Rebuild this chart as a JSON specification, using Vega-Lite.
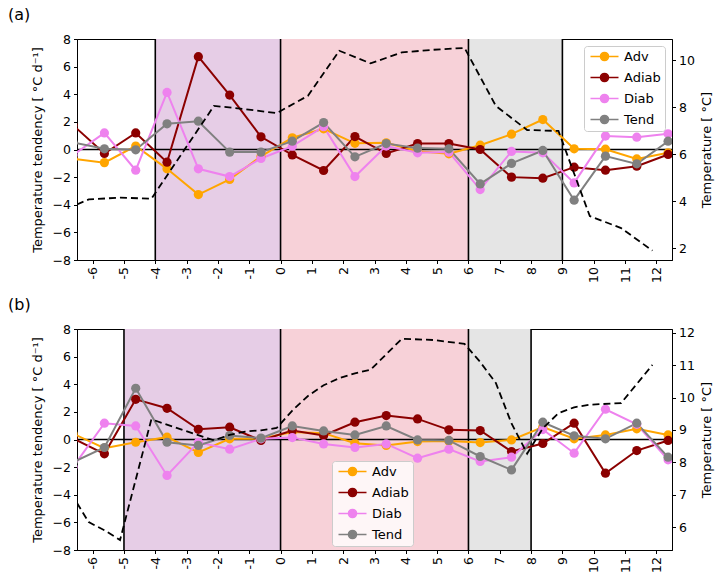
{
  "$schema": "https://vega.github.io/schema/vega-lite/v6.json",
  "background": "white",
  "padding": {"left": 7, "top": 6, "right": 5, "bottom": 5},
  "config": {
    "font": "DejaVu Sans",
    "view": {"stroke": "black", "strokeWidth": 1},
    "axis": {"grid": false, "domainColor": "black", "tickColor": "black", "labelColor": "black", "titleColor": "black", "labelFontSize": 12.5, "titleFontSize": 13, "titleFontWeight": "normal", "tickSize": 3.5, "labelPadding": 3, "titlePadding": 8, "labelFont": "DejaVu Sans", "titleFont": "DejaVu Sans", "labelFlush": false, "labelOverlap": false, "labelBound": false, "zindex": 1},
    "legend": {"fillColor": "rgba(255,255,255,0.8)", "strokeColor": "#cccccc", "cornerRadius": 3, "padding": 4, "labelFontSize": 13, "labelFont": "DejaVu Sans", "labelColor": "black", "rowPadding": 6, "symbolSize": 64, "symbolStrokeWidth": 1.6, "symbolOffset": 10, "labelOffset": 13},
    "title": {"fontSize": 16, "fontWeight": "normal", "anchor": "start", "font": "DejaVu Sans", "color": "black", "frame": "bounds"}
  },
  "datasets": {
    "phasesA": [{"phase": "pre", "start": -4, "end": 0}, {"phase": "peak", "start": 0, "end": 6}, {"phase": "post", "start": 6, "end": 9}],
    "phasesB": [{"phase": "pre", "start": -5, "end": 0}, {"phase": "peak", "start": 0, "end": 6}, {"phase": "post", "start": 6, "end": 8}],
    "boundsA": [{"t": -4}, {"t": 0}, {"t": 6}, {"t": 9}],
    "boundsB": [{"t": -5}, {"t": 0}, {"t": 6}, {"t": 8}],
    "seriesA": [
      {"t": -6.625, "Adv": -0.67, "Adiab": 1.76, "Diab": -0.4, "Tend": 0.51},
      {"t": -5.625, "Adv": -0.95, "Adiab": -0.29, "Diab": 1.2, "Tend": 0.05},
      {"t": -4.625, "Adv": 0.25, "Adiab": 1.2, "Diab": -1.5, "Tend": -0.02},
      {"t": -3.625, "Adv": -1.4, "Adiab": -0.92, "Diab": 4.13, "Tend": 1.86},
      {"t": -2.625, "Adv": -3.26, "Adiab": 6.72, "Diab": -1.4, "Tend": 2.05},
      {"t": -1.625, "Adv": -2.17, "Adiab": 3.94, "Diab": -1.96, "Tend": -0.19},
      {"t": -0.625, "Adv": -0.5, "Adiab": 0.92, "Diab": -0.65, "Tend": -0.19},
      {"t": 0.375, "Adv": 0.85, "Adiab": -0.39, "Diab": 0.24, "Tend": 0.6},
      {"t": 1.375, "Adv": 1.5, "Adiab": -1.52, "Diab": 1.65, "Tend": 1.95},
      {"t": 2.375, "Adv": 0.45, "Adiab": 0.94, "Diab": -1.96, "Tend": -0.53},
      {"t": 3.375, "Adv": 0.48, "Adiab": -0.29, "Diab": 0.25, "Tend": 0.43},
      {"t": 4.375, "Adv": -0.12, "Adiab": 0.43, "Diab": -0.24, "Tend": 0.1},
      {"t": 5.375, "Adv": -0.31, "Adiab": 0.43, "Diab": -0.19, "Tend": 0.05},
      {"t": 6.375, "Adv": 0.31, "Adiab": 0.0, "Diab": -2.9, "Tend": -2.49},
      {"t": 7.375, "Adv": 1.11, "Adiab": -2.0, "Diab": -0.14, "Tend": -1.01},
      {"t": 8.375, "Adv": 2.17, "Adiab": -2.08, "Diab": -0.24, "Tend": -0.07},
      {"t": 9.375, "Adv": 0.05, "Adiab": -1.28, "Diab": -2.42, "Tend": -3.67},
      {"t": 10.375, "Adv": 0.02, "Adiab": -1.5, "Diab": 0.97, "Tend": -0.48},
      {"t": 11.375, "Adv": -0.68, "Adiab": -1.21, "Diab": 0.89, "Tend": -1.04},
      {"t": 12.375, "Adv": -0.24, "Adiab": -0.36, "Diab": 1.14, "Tend": 0.6}
    ],
    "seriesB": [
      {"t": -6.625, "Adv": 0.42, "Adiab": 0.07, "Diab": -1.99, "Tend": -1.65},
      {"t": -5.625, "Adv": -0.63, "Adiab": -1.04, "Diab": 1.18, "Tend": -0.58},
      {"t": -4.625, "Adv": -0.2, "Adiab": 2.91, "Diab": 0.98, "Tend": 3.71},
      {"t": -3.625, "Adv": 0.17, "Adiab": 2.26, "Diab": -2.6, "Tend": -0.2},
      {"t": -2.625, "Adv": -0.94, "Adiab": 0.74, "Diab": -0.2, "Tend": -0.43},
      {"t": -1.625, "Adv": 0.05, "Adiab": 0.89, "Diab": -0.7, "Tend": 0.29},
      {"t": -0.625, "Adv": 0.05, "Adiab": -0.07, "Diab": 0.05, "Tend": 0.1},
      {"t": 0.375, "Adv": 0.55, "Adiab": 0.65, "Diab": 0.14, "Tend": 0.98},
      {"t": 1.375, "Adv": 0.46, "Adiab": 0.29, "Diab": -0.32, "Tend": 0.62},
      {"t": 2.375, "Adv": -0.27, "Adiab": 1.25, "Diab": -0.58, "Tend": 0.33},
      {"t": 3.375, "Adv": -0.43, "Adiab": 1.73, "Diab": -0.32, "Tend": 0.98},
      {"t": 4.375, "Adv": -0.15, "Adiab": 1.49, "Diab": -1.35, "Tend": -0.03},
      {"t": 5.375, "Adv": -0.1, "Adiab": 0.7, "Diab": -0.7, "Tend": -0.07},
      {"t": 6.375, "Adv": -0.22, "Adiab": 0.65, "Diab": -1.59, "Tend": -1.23},
      {"t": 7.375, "Adv": -0.03, "Adiab": -0.87, "Diab": -1.28, "Tend": -2.2},
      {"t": 8.375, "Adv": 0.9, "Adiab": -0.29, "Diab": 0.72, "Tend": 1.25},
      {"t": 9.375, "Adv": 0.05, "Adiab": 1.18, "Diab": -0.99, "Tend": 0.27},
      {"t": 10.375, "Adv": 0.33, "Adiab": -2.44, "Diab": 2.19, "Tend": 0.05},
      {"t": 11.375, "Adv": 0.77, "Adiab": -0.8, "Diab": 1.1, "Tend": 1.18},
      {"t": 12.375, "Adv": 0.33, "Adiab": -0.07, "Diab": -1.47, "Tend": -1.28}
    ],
    "dashA": [
      {"t": -6.5, "temp": 3.86}, {"t": -6.125, "temp": 4.07}, {"t": -5.125, "temp": 4.15}, {"t": -4.125, "temp": 4.1},
      {"t": -2.125, "temp": 8.06}, {"t": -1.125, "temp": 7.92}, {"t": -0.125, "temp": 7.75}, {"t": 0.875, "temp": 8.49},
      {"t": 1.875, "temp": 10.41}, {"t": 2.875, "temp": 9.87}, {"t": 3.875, "temp": 10.34}, {"t": 4.875, "temp": 10.45},
      {"t": 5.875, "temp": 10.53}, {"t": 6.875, "temp": 8.06}, {"t": 7.875, "temp": 7.03}, {"t": 8.875, "temp": 6.99},
      {"t": 9.875, "temp": 3.36}, {"t": 10.875, "temp": 2.85}, {"t": 11.875, "temp": 1.89}
    ],
    "dashB": [
      {"t": -6.5, "temp": 6.74}, {"t": -6.125, "temp": 6.15}, {"t": -5.625, "temp": 5.9}, {"t": -5.125, "temp": 5.6},
      {"t": -4.125, "temp": 9.33}, {"t": -3.125, "temp": 9.0}, {"t": -2.125, "temp": 8.68}, {"t": -1.625, "temp": 8.85},
      {"t": -1.125, "temp": 8.95}, {"t": -0.625, "temp": 8.99}, {"t": -0.125, "temp": 9.06}, {"t": 0.375, "temp": 9.6},
      {"t": 0.875, "temp": 10.05}, {"t": 1.375, "temp": 10.38}, {"t": 1.875, "temp": 10.6}, {"t": 2.375, "temp": 10.75},
      {"t": 2.875, "temp": 10.86}, {"t": 3.875, "temp": 11.82}, {"t": 4.875, "temp": 11.78}, {"t": 5.875, "temp": 11.66},
      {"t": 6.375, "temp": 11.1}, {"t": 6.875, "temp": 10.45}, {"t": 7.375, "temp": 9.2}, {"t": 7.875, "temp": 8.27},
      {"t": 8.375, "temp": 9.05}, {"t": 8.875, "temp": 9.52}, {"t": 9.375, "temp": 9.7}, {"t": 9.875, "temp": 9.78},
      {"t": 10.875, "temp": 9.83}, {"t": 11.875, "temp": 11.01}
    ]
  },
  "spacing": 13,
  "resolve": {"scale": {"color": "independent"}, "legend": {"color": "independent"}},
  "vconcat": [
    {
      "title": {"text": "(a)", "offset": 10, "dx": -23},
      "width": 595,
      "height": 221,
      "resolve": {"scale": {"y": "independent"}},
      "layer": [
        {
          "layer": [
            {
              "data": {"name": "phasesA"},
              "mark": {"type": "rect"},
              "encoding": {
                "x": {"field": "start", "type": "quantitative", "scale": {"domain": [-6.5, 12.5], "nice": false, "zero": false}, "axis": {"values": [-6,-5,-4,-3,-2,-1,0,1,2,3,4,5,6,7,8,9,10,11,12], "labelAngle": -90, "title": null, "labelExpr": "replace(datum.label, '−', '-')"}},
                "x2": {"field": "end"},
                "fill": {"field": "phase", "type": "nominal", "scale": {"domain": ["pre", "peak", "post"], "range": ["#e6cde6", "#f7d1d8", "#e5e5e5"]}, "legend": null}
              }
            },
            {
              "data": {"name": "boundsA"},
              "mark": {"type": "rule", "color": "black", "strokeWidth": 1.6},
              "encoding": {"x": {"field": "t", "type": "quantitative", "axis": {"values": [-6,-5,-4,-3,-2,-1,0,1,2,3,4,5,6,7,8,9,10,11,12], "labelAngle": -90, "title": null, "labelExpr": "replace(datum.label, '−', '-')"}}}
            },
            {
              "data": {"values": [{"z": 0}]},
              "mark": {"type": "rule", "color": "black", "strokeWidth": 1.6},
              "encoding": {"y": {"field": "z", "type": "quantitative", "scale": {"domain": [-8, 8], "nice": false, "zero": false}, "axis": {"values": [-8,-6,-4,-2,0,2,4,6,8], "title": "Temperature tendency [ °C d⁻¹]"}}}
            },
            {
              "data": {"name": "seriesA"},
              "transform": [{"fold": ["Adv", "Adiab", "Diab", "Tend"], "as": ["series", "value"]}],
              "mark": {"type": "line", "strokeWidth": 2, "clip": true},
              "encoding": {
                "x": {"field": "t", "type": "quantitative", "axis": {"values": [-6,-5,-4,-3,-2,-1,0,1,2,3,4,5,6,7,8,9,10,11,12], "labelAngle": -90, "title": null, "labelExpr": "replace(datum.label, '−', '-')"}},
                "y": {"field": "value", "type": "quantitative", "axis": {"values": [-8,-6,-4,-2,0,2,4,6,8], "title": "Temperature tendency [ °C d⁻¹]"}},
                "color": {"field": "series", "type": "nominal", "scale": {"domain": ["Adv", "Adiab", "Diab", "Tend"], "range": ["#ffa500", "#8b0000", "#ee82ee", "#808080"]}}
              }
            },
            {
              "data": {"name": "seriesA"},
              "transform": [{"fold": ["Adv", "Adiab", "Diab", "Tend"], "as": ["series", "value"]}],
              "mark": {"type": "point", "filled": true, "size": 85, "opacity": 1, "clip": true},
              "encoding": {
                "x": {"field": "t", "type": "quantitative", "axis": {"values": [-6,-5,-4,-3,-2,-1,0,1,2,3,4,5,6,7,8,9,10,11,12], "labelAngle": -90, "title": null, "labelExpr": "replace(datum.label, '−', '-')"}},
                "y": {"field": "value", "type": "quantitative", "axis": {"values": [-8,-6,-4,-2,0,2,4,6,8], "title": "Temperature tendency [ °C d⁻¹]"}},
                "color": {"field": "series", "type": "nominal", "scale": {"domain": ["Adv", "Adiab", "Diab", "Tend"], "range": ["#ffa500", "#8b0000", "#ee82ee", "#808080"]},
                  "legend": {"title": null, "orient": "top-right", "offset": 7, "symbolType": "M-3.5,0H3.5M1,0A1,1,0,1,1,-1,0A1,1,0,1,1,1,0Z",
                    "encode": {"symbols": {"update": {
                      "fill": {"signal": "datum.value==='Adv'?'#ffa500':datum.value==='Adiab'?'#8b0000':datum.value==='Diab'?'#ee82ee':'#808080'"},
                      "stroke": {"signal": "datum.value==='Adv'?'#ffa500':datum.value==='Adiab'?'#8b0000':datum.value==='Diab'?'#ee82ee':'#808080'"},
                      "opacity": {"value": 1}}}}}}
              }
            }
          ]
        },
        {
          "data": {"name": "dashA"},
          "mark": {"type": "line", "color": "black", "strokeDash": [7, 4], "strokeWidth": 1.8, "clip": true},
          "encoding": {
            "x": {"field": "t", "type": "quantitative", "axis": {"values": [-6,-5,-4,-3,-2,-1,0,1,2,3,4,5,6,7,8,9,10,11,12], "labelAngle": -90, "title": null, "labelExpr": "replace(datum.label, '−', '-')"}},
            "y": {"field": "temp", "type": "quantitative", "scale": {"domain": [1.49, 10.91], "nice": false, "zero": false}, "axis": {"orient": "right", "values": [2, 4, 6, 8, 10], "title": "Temperature [ °C]", "titleAngle": 270, "titleBaseline": "top", "titlePadding": 6}}
          }
        }
      ]
    },
    {
      "title": {"text": "(b)", "offset": 10, "dx": -23},
      "width": 595,
      "height": 221,
      "resolve": {"scale": {"y": "independent"}},
      "layer": [
        {
          "layer": [
            {
              "data": {"name": "phasesB"},
              "mark": {"type": "rect"},
              "encoding": {
                "x": {"field": "start", "type": "quantitative", "scale": {"domain": [-6.5, 12.5], "nice": false, "zero": false}, "axis": {"values": [-6,-5,-4,-3,-2,-1,0,1,2,3,4,5,6,7,8,9,10,11,12], "labelAngle": -90, "title": null, "labelExpr": "replace(datum.label, '−', '-')"}},
                "x2": {"field": "end"},
                "fill": {"field": "phase", "type": "nominal", "scale": {"domain": ["pre", "peak", "post"], "range": ["#e6cde6", "#f7d1d8", "#e5e5e5"]}, "legend": null}
              }
            },
            {
              "data": {"name": "boundsB"},
              "mark": {"type": "rule", "color": "black", "strokeWidth": 1.6},
              "encoding": {"x": {"field": "t", "type": "quantitative", "axis": {"values": [-6,-5,-4,-3,-2,-1,0,1,2,3,4,5,6,7,8,9,10,11,12], "labelAngle": -90, "title": null, "labelExpr": "replace(datum.label, '−', '-')"}}}
            },
            {
              "data": {"values": [{"z": 0}]},
              "mark": {"type": "rule", "color": "black", "strokeWidth": 1.6},
              "encoding": {"y": {"field": "z", "type": "quantitative", "scale": {"domain": [-8, 8], "nice": false, "zero": false}, "axis": {"values": [-8,-6,-4,-2,0,2,4,6,8], "title": "Temperature tendency [ °C d⁻¹]"}}}
            },
            {
              "data": {"name": "seriesB"},
              "transform": [{"fold": ["Adv", "Adiab", "Diab", "Tend"], "as": ["series", "value"]}],
              "mark": {"type": "line", "strokeWidth": 2, "clip": true},
              "encoding": {
                "x": {"field": "t", "type": "quantitative", "axis": {"values": [-6,-5,-4,-3,-2,-1,0,1,2,3,4,5,6,7,8,9,10,11,12], "labelAngle": -90, "title": null, "labelExpr": "replace(datum.label, '−', '-')"}},
                "y": {"field": "value", "type": "quantitative", "axis": {"values": [-8,-6,-4,-2,0,2,4,6,8], "title": "Temperature tendency [ °C d⁻¹]"}},
                "color": {"field": "series", "type": "nominal", "scale": {"domain": ["Adv", "Adiab", "Diab", "Tend"], "range": ["#ffa500", "#8b0000", "#ee82ee", "#808080"]}}
              }
            },
            {
              "data": {"name": "seriesB"},
              "transform": [{"fold": ["Adv", "Adiab", "Diab", "Tend"], "as": ["series", "value"]}],
              "mark": {"type": "point", "filled": true, "size": 85, "opacity": 1, "clip": true},
              "encoding": {
                "x": {"field": "t", "type": "quantitative", "axis": {"values": [-6,-5,-4,-3,-2,-1,0,1,2,3,4,5,6,7,8,9,10,11,12], "labelAngle": -90, "title": null, "labelExpr": "replace(datum.label, '−', '-')"}},
                "y": {"field": "value", "type": "quantitative", "axis": {"values": [-8,-6,-4,-2,0,2,4,6,8], "title": "Temperature tendency [ °C d⁻¹]"}},
                "color": {"field": "series", "type": "nominal", "scale": {"domain": ["Adv", "Adiab", "Diab", "Tend"], "range": ["#ffa500", "#8b0000", "#ee82ee", "#808080"]},
                  "legend": {"title": null, "orient": "none", "legendX": 255, "legendY": 132, "symbolType": "M-3.5,0H3.5M1,0A1,1,0,1,1,-1,0A1,1,0,1,1,1,0Z",
                    "encode": {"symbols": {"update": {
                      "fill": {"signal": "datum.value==='Adv'?'#ffa500':datum.value==='Adiab'?'#8b0000':datum.value==='Diab'?'#ee82ee':'#808080'"},
                      "stroke": {"signal": "datum.value==='Adv'?'#ffa500':datum.value==='Adiab'?'#8b0000':datum.value==='Diab'?'#ee82ee':'#808080'"},
                      "opacity": {"value": 1}}}}}}
              }
            }
          ]
        },
        {
          "data": {"name": "dashB"},
          "mark": {"type": "line", "color": "black", "strokeDash": [7, 4], "strokeWidth": 1.8, "clip": true},
          "encoding": {
            "x": {"field": "t", "type": "quantitative", "axis": {"values": [-6,-5,-4,-3,-2,-1,0,1,2,3,4,5,6,7,8,9,10,11,12], "labelAngle": -90, "title": null, "labelExpr": "replace(datum.label, '−', '-')"}},
            "y": {"field": "temp", "type": "quantitative", "scale": {"domain": [5.29, 12.12], "nice": false, "zero": false}, "axis": {"orient": "right", "values": [6, 7, 8, 9, 10, 11, 12], "title": "Temperature [ °C]", "titleAngle": 270, "titleBaseline": "top", "titlePadding": 6}}
          }
        }
      ]
    }
  ]
}
